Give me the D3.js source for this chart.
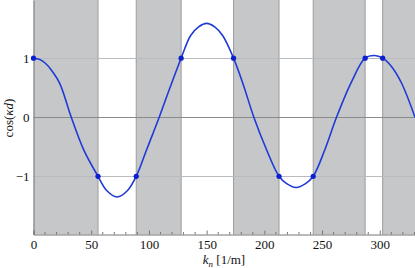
<!DOCTYPE html>
<html>
<head>
<meta charset="utf-8">
<script src="https://cdn.jsdelivr.net/npm/d3@7"></script>
<style>
  body { margin: 0; background: #fff; }
  svg { display: block; font-family: "Liberation Serif", "DejaVu Serif", serif; }
</style>
</head>
<body>
<svg id="chart" width="415" height="268"></svg>
<script>
// curve samples: k_n [1/m] and cos(kd)
var kVals = [0, 5, 10.5, 15.4, 22.7, 32.7, 43.5, 55.9, 63.4, 72.4, 81.5, 89, 98, 108.9, 118.2, 127.9,
             136, 143, 150, 157, 164, 173.3, 181.6, 190.9, 201.9, 212.7, 219, 227.5, 236, 242.3, 252.4,
             262.5, 275.5, 287.3, 295.5, 302.5, 310.1, 318.8, 330.5];
var fVals = [1, 0.98, 0.91, 0.80, 0.574, 0, -0.552, -1, -1.24, -1.35, -1.24, -1, -0.55, 0, 0.5, 1,
             1.38, 1.53, 1.59, 1.53, 1.38, 1, 0.56, 0, -0.55, -1, -1.12, -1.19, -1.12, -1, -0.55,
             0, 0.6, 1, 1.045, 1, 0.86, 0.58, 0];

// points where |cos(kd)| = 1
var edgeK = [0, 55.9, 89, 127.9, 173.3, 212.7, 242.3, 287.3, 302.5];
var edgeF = [1, -1, -1, 1, 1, -1, -1, 1, 1];

// allowed bands (shaded)
var bandStart = [0, 89, 173.3, 242.3, 302.5];
var bandEnd   = [55.9, 127.9, 212.7, 287.3, 330.5];

var xTicks = [0, 50, 100, 150, 200, 250, 300];
var yTicks = [-1, 0, 1];

var svg = d3.select("#chart");
var x = d3.scaleLinear().domain([0, 330.5]).range([33.5, 415]);
var y = d3.scaleLinear().domain([-1.985, 1.985]).range([234.5, 0]);

var bands = d3.range(bandStart.length).map(function(i) { return [bandStart[i], bandEnd[i]]; });
svg.selectAll("rect.band").data(bands).enter().append("rect")
    .attr("class", "band")
    .attr("x", function(d) { return x(d[0]); })
    .attr("y", 0)
    .attr("width", function(d) { return x(d[1]) - x(d[0]); })
    .attr("height", y(-1.985))
    .style("fill", "#c6c7c9");

// vertical lines at band edges
svg.selectAll("line.edge").data(edgeK.slice(1)).enter().append("line")
    .attr("x1", function(d) { return x(d); })
    .attr("x2", function(d) { return x(d); })
    .attr("y1", 0).attr("y2", y(-1.985))
    .style("stroke", "#9a9b9d").style("stroke-width", 1);

// horizontal grid
svg.selectAll("line.grid").data(yTicks).enter().append("line")
    .attr("x1", x(0)).attr("x2", 415)
    .attr("y1", function(d) { return Math.round(y(d)) + 0.5; })
    .attr("y2", function(d) { return Math.round(y(d)) + 0.5; })
    .style("stroke", function(d) { return d === 0 ? "#8a8a8a" : "#b8bcc0"; })
    .style("stroke-width", 1);

// axes
var xAxis = d3.axisBottom(x).tickValues(xTicks).tickSize(-4).tickPadding(5).tickFormat(d3.format("d"));
var gx = svg.append("g").attr("transform", "translate(0," + y(-1.985) + ")").call(xAxis);
gx.select(".domain").style("stroke", "#777");
gx.selectAll(".tick line").style("stroke", "#777");
gx.selectAll("text").style("font-size", "13px").style("fill", "#111").style("font-family", "Liberation Serif");

var minor = d3.range(0, 331, 10).filter(function(d) { return d % 50 !== 0; });
svg.selectAll("line.minor").data(minor).enter().append("line")
    .attr("x1", function(d) { return x(d); })
    .attr("x2", function(d) { return x(d); })
    .attr("y1", y(-1.985)).attr("y2", y(-1.985) - 2.5)
    .style("stroke", "#777");

var yAxis = d3.axisLeft(y).tickValues(yTicks).tickSize(0).tickPadding(4)
    .tickFormat(function(d) { return d < 0 ? "\u2212" + Math.abs(d) : d; });
var gy = svg.append("g").attr("transform", "translate(" + x(0) + ",0)").call(yAxis);
gy.select(".domain").style("stroke", "#777");
gy.selectAll("text").style("font-size", "13px").style("fill", "#111").style("font-family", "Liberation Serif");

// curve
svg.append("clipPath").attr("id", "clip").append("rect")
    .attr("x", x(0)).attr("y", 0).attr("width", 415 - x(0)).attr("height", y(-1.985));

var pts = d3.range(kVals.length).map(function(i) { return [kVals[i], fVals[i]]; });
var line = d3.line()
    .x(function(d) { return x(d[0]); })
    .y(function(d) { return y(d[1]); })
    .curve(d3.curveCatmullRom.alpha(0.5));

svg.append("path")
    .datum(pts)
    .attr("clip-path", "url(#clip)")
    .attr("d", line)
    .style("fill", "none")
    .style("stroke", "#1f3ad6")
    .style("stroke-width", 1.6);

var dots = d3.range(edgeK.length).map(function(i) { return [edgeK[i], edgeF[i]]; });
svg.selectAll("circle.dot").data(dots).enter().append("circle")
    .attr("cx", function(d) { return x(d[0]); })
    .attr("cy", function(d) { return y(d[1]); })
    .attr("r", 2.6)
    .style("fill", "#0c1fcf");

// labels
var xl = svg.append("text")
    .attr("x", 224).attr("y", 264)
    .attr("text-anchor", "middle")
    .style("font-size", "13px").style("fill", "#111");
xl.append("tspan").style("font-style", "italic").text("k");
xl.append("tspan").style("font-style", "italic").style("font-size", "9px").attr("dy", 3).text("n");
xl.append("tspan").attr("dy", -3).text(" [1/m]");

var yl = svg.append("text")
    .attr("transform", "translate(13,118) rotate(-90)")
    .attr("text-anchor", "middle")
    .style("font-size", "13px").style("fill", "#111");
yl.append("tspan").text("cos(");
yl.append("tspan").style("font-style", "italic").text("\u03bad");
yl.append("tspan").text(")");
</script>
</body>
</html>
